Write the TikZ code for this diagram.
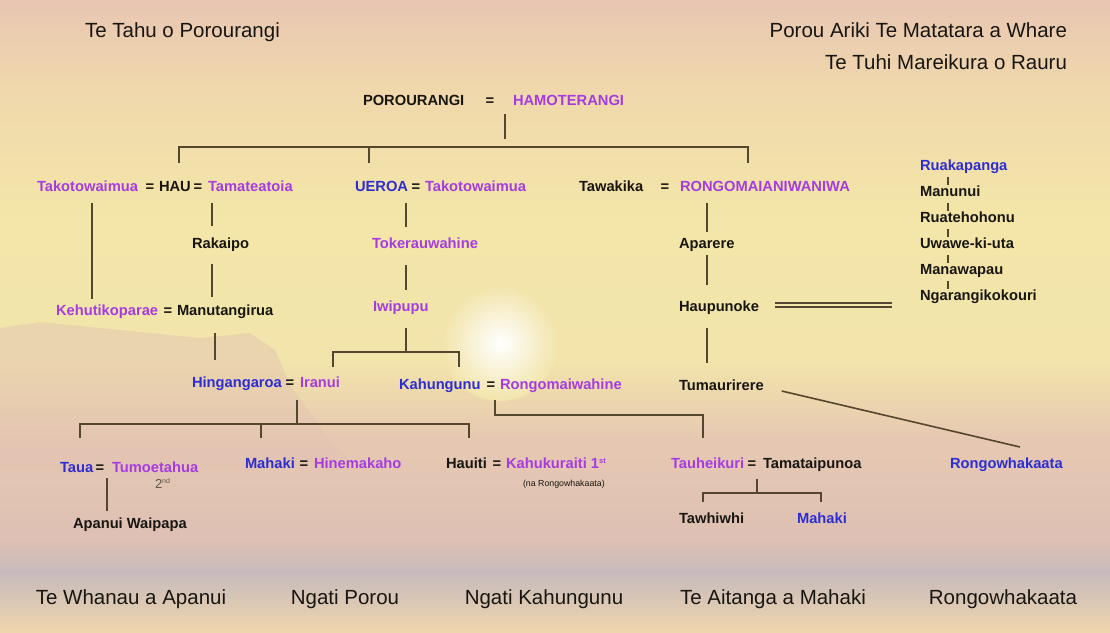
\documentclass[tikz,border=0pt]{standalone}
\usepackage{fontspec}
\setmainfont{Liberation Sans}
\usetikzlibrary{calc}
\definecolor{pur}{RGB}{165,60,225}
\definecolor{blu}{RGB}{45,45,210}
\definecolor{ink}{RGB}{25,22,18}
\definecolor{lin}{RGB}{85,70,48}
\definecolor{gry}{RGB}{95,85,75}
\definecolor{bgA}{RGB}{232,198,178}
\definecolor{bgB}{RGB}{240,216,172}
\definecolor{bgC}{RGB}{243,230,168}
\definecolor{bgD}{RGB}{242,228,170}
\definecolor{bgE}{RGB}{230,200,178}
\definecolor{bgF}{RGB}{222,192,180}
\definecolor{bgG}{RGB}{198,186,188}
\definecolor{bgH}{RGB}{240,214,172}
\definecolor{mnt}{RGB}{226,194,178}
\begin{document}
\begin{tikzpicture}[x=1pt,y=-1pt,
  every node/.style={inner sep=0pt,outer sep=0pt},
  nm/.style={font=\fontsize{14.7}{17}\selectfont\bfseries,anchor=base west},
  pu/.style={nm,text=pur},
  bl/.style={nm,text=blu},
  bk/.style={nm,text=ink},
  eqs/.style={font=\fontsize{14.7}{17}\selectfont\bfseries,anchor=base,text=ink},
  hd/.style={font=\fontsize{20.5}{24}\selectfont,text=ink},
  ln/.style={draw=lin,line width=2pt},
  tk/.style={draw=lin,line width=1.2pt},
  dl/.style={draw=lin,line width=2pt}]
\useasboundingbox (0,0) rectangle (1110,632);
% background
\fill[top color=bgA,bottom color=bgB] (0,0) rectangle (1110,90);
\fill[top color=bgB,bottom color=bgC] (0,90) rectangle (1110,220);
\fill[top color=bgC,bottom color=bgD] (0,220) rectangle (1110,360);
\fill[top color=bgD,bottom color=bgE] (0,360) rectangle (1110,440);
\fill[top color=bgE,bottom color=bgF] (0,440) rectangle (1110,540);
\fill[top color=bgF,bottom color=bgG] (0,540) rectangle (1110,572);
\fill[top color=bgG,bottom color=bgH] (0,572) rectangle (1110,632);
\fill[mnt,opacity=0.45] (0,328) -- (40,322) -- (120,330) -- (200,338) -- (250,333) -- (275,350) -- (290,385) -- (330,440) -- (360,470) -- (0,470) -- cycle;
\shade[inner color=white,outer color=bgD] (500,343) circle (58);
% headers
\node[hd,anchor=base west] (h1) at (85,37) {Te Tahu o Porourangi};
\node[hd,anchor=base east] (h2) at (1067,37) {Porou Ariki Te Matatara a Whare};
\node[hd,anchor=base east] (h3) at (1067,69) {Te Tuhi Mareikura o Rauru};
% top couple
\node[bk] (poro) at (363,105) {POROURANGI};
\node[eqs] (e0) at (490,105) {=};
\node[pu] (hamo) at (513,105) {HAMOTERANGI};
% row 1
\node[pu] (tak1) at (37,191) {Takotowaimua};
\node[eqs] (e1) at (150,191) {=};
\node[bk] (hau) at (159,191) {HAU};
\node[eqs] (e2) at (198,191) {=};
\node[pu] (tama) at (208,191) {Tamateatoia};
\node[bl] (uer) at (355,191) {UEROA};
\node[eqs] (e3) at (416,191) {=};
\node[pu] (tak2) at (425,191) {Takotowaimua};
\node[bk] (taw) at (579,191) {Tawakika};
\node[eqs] (e4) at (665,191) {=};
\node[pu] (rongo) at (680,191) {RONGOMAIANIWANIWA};
% row 2
\node[bk] (rak) at (192,248) {Rakaipo};
\node[pu] (tok) at (372,248) {Tokerauwahine};
\node[bk] (apa) at (679,248) {Aparere};
% list
\node[bl] (ruak) at (920,170) {Ruakapanga};
\node[bk] (man) at (920,196) {Manunui};
\node[bk] (ruat) at (920,222) {Ruatehohonu};
\node[bk] (uwa) at (920,248) {Uwawe-ki-uta};
\node[bk] (mana) at (920,274) {Manawapau};
\node[bk] (nga) at (920,300) {Ngarangikokouri};
% row 3
\node[pu] (keh) at (56,315) {Kehutikoparae};
\node[eqs] (e5) at (168,315) {=};
\node[bk] (manu) at (177,315) {Manutangirua};
\node[pu] (iwi) at (373,311) {Iwipupu};
\node[bk] (hau2) at (679,311) {Haupunoke};
% row 4
\node[bl] (hing) at (192,387) {Hingangaroa};
\node[eqs] (e6) at (290,387) {=};
\node[pu] (ira) at (300,387) {Iranui};
\node[bl] (kah) at (399,389) {Kahungunu};
\node[eqs] (e7) at (491,389) {=};
\node[pu] (rmw) at (500,389) {Rongomaiwahine};
\node[bk] (tum) at (679,390) {Tumaurirere};
% row 5
\node[bl] (taua) at (60,472) {Taua};
\node[eqs] (e8) at (100,472) {=};
\node[pu] (tumo) at (112,472) {Tumoetahua};
\node[anchor=base west,text=gry,font=\fontsize{13}{14}\selectfont] (snd) at (155,488) {2\raisebox{5pt}{\fontsize{7}{8}\selectfont nd}};
\node[bl] (maha1) at (245,468) {Mahaki};
\node[eqs] (e9) at (304,468) {=};
\node[pu] (hine) at (314,468) {Hinemakaho};
\node[bk] (hauiti) at (446,468) {Hauiti};
\node[eqs] (e10) at (497,468) {=};
\node[pu] (kahu) at (506,468) {Kahukuraiti 1\raisebox{5pt}{\fontsize{7.5}{8}\selectfont st}};
\node[anchor=base west,text=ink,font=\fontsize{8.8}{10}\selectfont] (na) at (523,486) {(na Rongowhakaata)};
\node[pu] (tauh) at (671,468) {Tauheikuri};
\node[eqs] (e11) at (752,468) {=};
\node[bk] (tama2) at (763,468) {Tamataipunoa};
\node[bl] (rongow) at (950,468) {Rongowhakaata};
% row 6
\node[bk] (apan) at (73,528) {Apanui Waipapa};
\node[bk] (tawh) at (679,523) {Tawhiwhi};
\node[bl] (maha2) at (797,523) {Mahaki};
% bottom
\node[hd,anchor=base] (b1) at (131,604) {Te Whanau a Apanui};
\node[hd,anchor=base] (b2) at (345,604) {Ngati Porou};
\node[hd,anchor=base] (b3) at (544,604) {Ngati Kahungunu};
\node[hd,anchor=base] (b4) at (773,604) {Te Aitanga a Mahaki};
\node[hd,anchor=base] (b5) at (1003,604) {Rongowhakaata};
% connectors
\draw[ln] ([shift={(-8,9)}]hamo.base west) -- ([shift={(-8,34)}]hamo.base west);
\draw[ln] ([shift={(20,-28)}]hau.base west) -- ++(0,-16) -| ([shift={(68,-28)}]rongo.base west);
\draw[ln] ([shift={(14,-28)}]uer.base west) -- ++(0,-16);
\draw[ln] ([shift={(55,12)}]tak1.base west) -- ([shift={(36,-16)}]keh.base west);
\draw[ln] ([shift={(4,12)}]tama.base west) -- ([shift={(20,-22)}]rak.base west);
\draw[ln] ([shift={(20,16)}]rak.base west) -- ([shift={(35,-18)}]manu.base west);
\draw[ln] ([shift={(38,18)}]manu.base west) -- ([shift={(23,-27)}]hing.base west);
\draw[ln] ([shift={(-3,13)}]ira.base west) -- ++(0,24);
\draw[ln] ([shift={(20,-34)}]taua.base west) -- ++(0,-14) -| ([shift={(23,-30)}]hauiti.base west);
\draw[ln] ([shift={(16,-30)}]maha1.base west) -- ++(0,-14);
\draw[ln] ([shift={(47,6)}]taua.base west) -- ([shift={(34,-17)}]apan.base west);
\draw[ln] ([shift={(-19,12)}]tak2.base west) -- ([shift={(34,-21)}]tok.base west);
\draw[ln] ([shift={(34,17)}]tok.base west) -- ([shift={(33,-21)}]iwi.base west);
\draw[ln] ([shift={(33,17)}]iwi.base west) -- ++(0,24);
\draw[ln] ([shift={(33,-20)}]ira.base west) -- ++(0,-15) -| ([shift={(60,-22)}]kah.base west);
\draw[ln] ([shift={(-5,11)}]rmw.base west) |- ([shift={(32,-53)}]tauh.base west) -- ([shift={(32,-30)}]tauh.base west);
\draw[ln] ([shift={(-6,11)}]tama2.base west) -- ++(0,14);
\draw[ln] ([shift={(24,-21)}]tawh.base west) -- ++(0,-9) -| ([shift={(24,-21)}]maha2.base west);
\draw[ln] ([shift={(27,12)}]rongo.base west) -- ([shift={(28,-16)}]apa.base west);
\draw[ln] ([shift={(28,7)}]apa.base west) -- ([shift={(28,-26)}]hau2.base west);
\draw[ln] ([shift={(28,17)}]hau2.base west) -- ([shift={(28,-27)}]tum.base west);
\draw[dl] ([shift={(16,-8.2)}]hau2.base east) -- ++(117,0);
\draw[dl] ([shift={(16,-3.8)}]hau2.base east) -- ++(117,0);
\draw[ln,line width=1.6pt] ([shift={(18,1)}]tum.base east) -- ([shift={(70,-21)}]rongow.base west);
\draw[tk] ([shift={(28,7)}]ruak.base west) -- ([shift={(28,-11)}]man.base west);
\draw[tk] ([shift={(28,7)}]man.base west) -- ([shift={(28,-11)}]ruat.base west);
\draw[tk] ([shift={(28,7)}]ruat.base west) -- ([shift={(28,-11)}]uwa.base west);
\draw[tk] ([shift={(28,7)}]uwa.base west) -- ([shift={(28,-11)}]mana.base west);
\draw[tk] ([shift={(28,7)}]mana.base west) -- ([shift={(28,-11)}]nga.base west);
\end{tikzpicture}
\end{document}
